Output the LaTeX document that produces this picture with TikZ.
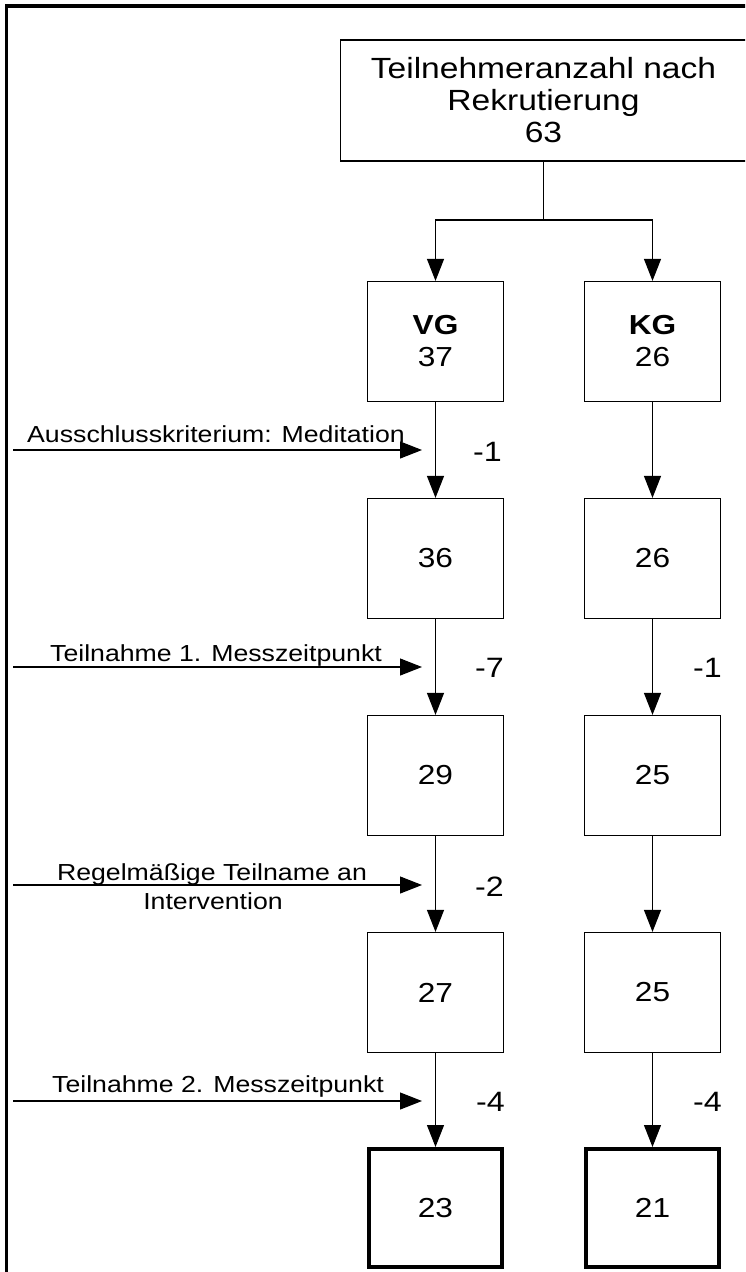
\documentclass[tikz,border=0pt]{standalone}
\usepackage{fontspec}
\setmainfont[FakeStretch=1.15]{Liberation Sans}
\usetikzlibrary{arrows.meta}
\begin{document}
\begin{tikzpicture}[x=1pt,y=-1pt,
  box/.style={draw,line width=1.2pt,minimum width=136pt,minimum height=120pt,inner sep=0pt,align=center,font=\fontsize{27.5}{32}\selectfont},
  finalbox/.style={box,line width=4pt,minimum width=133pt,minimum height=118pt},
  conn/.style={line width=1.1pt},
  arr/.style={conn,-{Triangle[length=22pt,width=17pt]}},
  lab/.style={font=\fontsize{23.2}{29}\selectfont,inner sep=0pt,anchor=base},
  diff/.style={font=\fontsize{28}{32}\selectfont,inner sep=0pt,anchor=base west}]
\useasboundingbox (0,0) rectangle (745,1272);
\clip (0,0) rectangle (745,1272);
\fill[white] (0,0) rectangle (745,1272);
% frame
\draw[line width=3.5pt] (6.5,1280) -- (6.5,6) -- (760,6);
% nodes
\node[box,minimum width=406pt,minimum height=121pt,font=\fontsize{29.2}{32}\selectfont] (top) at (543.5,100.5) {Teilnehmeranzahl nach\\Rekrutierung\\63};
\node[box] (vg) at (435.5,341.5) {\textbf{VG}\\37};
\node[box] (kg) at (652.5,341.5) {\textbf{KG}\\26};
\node[box] (v2) at (435.5,558.5) {36};
\node[box] (k2) at (652.5,558.5) {26};
\node[box] (v3) at (435.5,775.5) {29};
\node[box] (k3) at (652.5,775.5) {25};
\node[box] (v4) at (435.5,992.5) {27};
\node[box] (k4) at (652.5,992.5) {25};
\node[finalbox] (v5) at (435.5,1208) {23};
\node[finalbox] (k5) at (652.5,1208) {21};
% split
\coordinate (split) at (543.5,220);
\draw[conn] (top.south) -- (split);
\draw[arr] (split) -| (vg.north);
\draw[arr] (split) -| (kg.north);
% vertical arrows
\draw[arr] (vg.south) -- (v2.north);
\draw[arr] (kg.south) -- (k2.north);
\draw[arr] (v2.south) -- (v3.north);
\draw[arr] (k2.south) -- (k3.north);
\draw[arr] (v3.south) -- (v4.north);
\draw[arr] (k3.south) -- (k4.north);
\draw[arr] (v4.south) -- (v5.north);
\draw[arr] (k4.south) -- (k5.north);
% side arrows
\coordinate (s1) at (13,450);  \coordinate (e1) at (422,450);
\coordinate (s2) at (13,667);  \coordinate (e2) at (422,667);
\coordinate (s3) at (13,885);  \coordinate (e3) at (422,885);
\coordinate (s4) at (13,1101); \coordinate (e4) at (422,1101);
\draw[arr] (s1) -- (e1);
\draw[arr] (s2) -- (e2);
\draw[arr] (s3) -- (e3);
\draw[arr] (s4) -- (e4);
% labels
\node[lab] (l1) at (216,442) {Ausschlusskriterium: Meditation};
\node[lab] (l2) at (216,661) {Teilnahme 1. Messzeitpunkt};
\node[lab] (l3a) at (212,880) {Regelmäßige Teilname an};
\node[lab] (l3b) at (213,909) {Intervention};
\node[lab] (l4) at (218,1092) {Teilnahme 2. Messzeitpunkt};
% differences
\node[diff] (d1) at (473,461) {-1};
\node[diff] (d2) at (475,677) {-7};
\node[diff] (d2k) at (693,677) {-1};
\node[diff] (d3) at (475,896) {-2};
\node[diff] (d4) at (476,1111) {-4};
\node[diff] (d4k) at (693,1111) {-4};
\end{tikzpicture}
\end{document}
